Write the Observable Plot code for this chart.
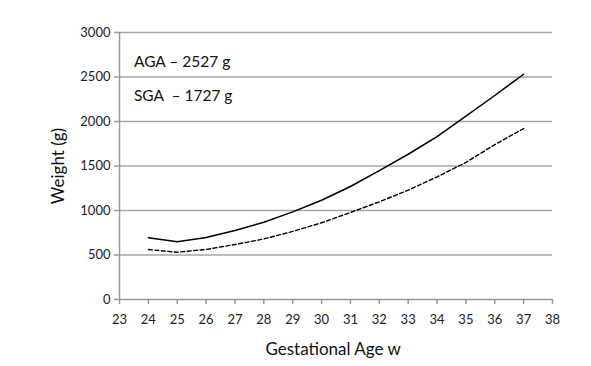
<!DOCTYPE html>
<html>
<head>
<meta charset="utf-8">
<script src="https://cdn.jsdelivr.net/npm/d3@7"></script>
<script src="https://cdn.jsdelivr.net/npm/@observablehq/plot@0.6"></script>
<style>
  html, body { margin: 0; padding: 0; background: #fff; }
  #chart { width: 591px; height: 366px; }
  svg { font-family: Lato, "Open Sans", sans-serif; }
</style>
</head>
<body>
<div id="chart"></div>
<script>
const weeks = [24, 25, 26, 27, 28, 29, 30, 31, 32, 33, 34, 35, 36, 37];
const agaWeight = [695, 648, 697, 775, 868, 985, 1115, 1270, 1448, 1632, 1830, 2060, 2292, 2531];
const sgaWeight = [562, 531, 562, 618, 680, 765, 862, 978, 1097, 1228, 1378, 1540, 1740, 1921];
const xTicks = [23, 24, 25, 26, 27, 28, 29, 30, 31, 32, 33, 34, 35, 36, 37, 38];
const yTicks = [0, 500, 1000, 1500, 2000, 2500, 3000];
const notes = ["AGA \u2013 2527 g", "SGA  \u2013 1727 g"];
const noteY = [2665, 2290];

const aga = weeks.map((w, i) => ({week: w, weight: agaWeight[i]}));
const sga = weeks.map((w, i) => ({week: w, weight: sgaWeight[i]}));

const chart = Plot.plot({
  width: 591,
  height: 366,
  marginLeft: 119,
  marginRight: 39,
  marginTop: 32,
  marginBottom: 67,
  style: {fontFamily: "Lato, 'Open Sans', sans-serif", background: "#fff"},
  x: {domain: [23, 38]},
  y: {domain: [0, 3000]},
  marks: [
    Plot.ruleY(yTicks.filter(d => d > 0), {stroke: "#a6a6a6", strokeWidth: 1.5}),
    Plot.ruleX([23], {stroke: "#999", strokeWidth: 1.5}),
    Plot.ruleY([0], {stroke: "#999", strokeWidth: 1.5}),
    Plot.axisY({ticks: yTicks, tickSize: 5, tickPadding: 4, stroke: "#999", strokeWidth: 1.5,
      fontSize: 13, color: "#222", label: null, tickFormat: d => String(d)}),
    Plot.axisX({ticks: xTicks, tickSize: 5, tickPadding: 10, stroke: "#999", strokeWidth: 1.5,
      fontSize: 13, color: "#222", label: null, tickFormat: d => String(d)}),
    Plot.line(sga, {x: "week", y: "weight", stroke: "#000", strokeWidth: 1.4, strokeDasharray: "4,2.5"}),
    Plot.line(aga, {x: "week", y: "weight", stroke: "#000", strokeWidth: 1.5}),
    Plot.text(notes, {x: 23.5, y: (d, i) => noteY[i], text: d => d, textAnchor: "start",
      fontSize: 15.5, fill: "#111"}),
    Plot.text(["Gestational Age w"], {x: 30.4, y: 0, dy: 50, text: d => d, fontSize: 17, fill: "#111"}),
    Plot.text(["Weight (g)"], {x: 23, y: 1500, dx: -61, rotate: -90, text: d => d, fontSize: 17, fill: "#111"})
  ]
});
document.getElementById("chart").appendChild(chart);
</script>
</body>
</html>
